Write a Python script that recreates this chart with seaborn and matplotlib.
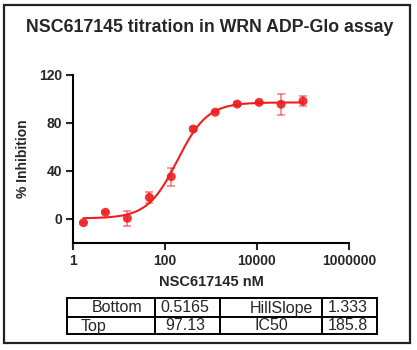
import numpy as np
import pandas as pd
import matplotlib
matplotlib.use("Agg")
import matplotlib.pyplot as plt
from matplotlib.patches import Rectangle
from matplotlib.lines import Line2D
import seaborn as sns

# ---- data ----
conc_nM = [1.69, 5.08, 15.2, 45.7, 137.0, 412.0, 1235.0, 3704.0, 11111.0, 33333.0, 100000.0]
inhibition = [-3.1, 5.6, 0.6, 18.0, 35.3, 75.0, 89.0, 95.8, 97.2, 95.6, 98.3]
inhibition_err = [1.0, 1.0, 6.4, 4.3, 7.6, 1.5, 1.0, 1.5, 1.0, 8.9, 4.4]

fit_names = ["Bottom", "Top", "HillSlope", "IC50"]
fit_values = [0.5165, 97.13, 1.333, 185.8]
fit_labels = ["0.5165", "97.13", "1.333", "185.8"]

x_ticks = [1, 100, 10000, 1000000]
x_tick_labels = ["1", "100", "10000", "1000000"]
y_ticks = [0, 40, 80, 120]

title = "NSC617145 titration in WRN ADP-Glo assay"
xlabel = "NSC617145 nM"
ylabel = "% Inhibition"

# ---- style ----
sns.set_style("white")
plt.rcParams['font.family'] = ['Liberation Sans', 'DejaVu Sans']

W, H = 417, 350
fig = plt.figure(figsize=(W / 100, H / 100), dpi=100)

def fx(px):
    return px / W

def fy(py):
    return 1 - py / H

ax = fig.add_axes([fx(73), fy(243), fx(349) - fx(73), fy(75) - fy(243)])

red = "#F01E1E"

df = pd.DataFrame({"conc": conc_nM, "inh": inhibition, "err": inhibition_err})

# fitted 4PL curve from the displayed parameters
bottom, top, hill, ic50 = fit_values
xc = np.logspace(np.log10(conc_nM[0]), np.log10(conc_nM[-1]), 300)
yc = bottom + (top - bottom) / (1 + (ic50 / xc) ** hill)
curve = pd.DataFrame({"conc": xc, "inh": yc})
sns.lineplot(data=curve, x="conc", y="inh", ax=ax, color=red, lw=1.5)

ax.errorbar(df["conc"], df["inh"], yerr=df["err"], fmt="none",
            ecolor=red, alpha=0.55, elinewidth=1.2, capsize=3, capthick=1.2)
sns.scatterplot(data=df, x="conc", y="inh", ax=ax, color=red, s=42,
                edgecolor="none", alpha=0.9, zorder=5)

ax.set_xscale("log")
ax.set_xlim(1, 1e6)
ax.set_ylim(-20, 120)
ax.set_xticks(x_ticks)
ax.set_xticklabels(x_tick_labels)
ax.xaxis.set_minor_locator(matplotlib.ticker.NullLocator())
ax.set_yticks(y_ticks)
for s in ["top", "right"]:
    ax.spines[s].set_visible(False)
for s in ["left", "bottom"]:
    ax.spines[s].set_linewidth(1.5)
    ax.spines[s].set_color("black")
ax.tick_params(axis="both", direction="out", length=5, width=1.5,
               labelsize=10, pad=3, left=True, bottom=True)
for lab in ax.get_xticklabels() + ax.get_yticklabels():
    lab.set_fontweight("bold")
ax.set_xlabel(xlabel, fontsize=10.5, fontweight="bold", labelpad=5)
ax.set_ylabel(ylabel, fontsize=10, fontweight="bold", labelpad=6)

fig.text(fx(210), fy(28), title, ha="center", va="center", fontsize=12.8, fontweight="bold")

# outer frame
fig.patches.append(Rectangle((fx(4), fy(343)), fx(410) - fx(4), fy(5) - fy(343),
                             transform=fig.transFigure, fill=False, lw=1.6,
                             edgecolor="#222222"))

# parameter table
tl, tr = 67, 377
tt, tm, tb = 298, 317, 334
cols = [67, 155, 220, 322, 377]
fig.patches.append(Rectangle((fx(tl), fy(tb)), fx(tr) - fx(tl), fy(tt) - fy(tb),
                             transform=fig.transFigure, fill=False, lw=1.4,
                             edgecolor="black"))
fig.lines.append(Line2D([fx(tl), fx(tr)], [fy(tm), fy(tm)], transform=fig.transFigure,
                        color="black", lw=1.4))
for c in cols[1:-1]:
    fig.lines.append(Line2D([fx(c), fx(c)], [fy(tt), fy(tb)], transform=fig.transFigure,
                            color="black", lw=1.4))
r1 = (tt + tm) / 2 + 0.5
r2 = (tm + tb) / 2 + 0.5
fs = 11.5
fig.text(fx(92), fy(r1), fit_names[0], ha="left", va="center", fontsize=fs)
fig.text(fx(81), fy(r2), fit_names[1], ha="left", va="center", fontsize=fs)
fig.text(fx(160), fy(r1), fit_labels[0], ha="left", va="center", fontsize=fs)
fig.text(fx(165), fy(r2), fit_labels[1], ha="left", va="center", fontsize=fs)
fig.text(fx(250), fy(r1), fit_names[2], ha="left", va="center", fontsize=fs)
fig.text(fx(255), fy(r2), fit_names[3], ha="left", va="center", fontsize=fs)
fig.text(fx(368), fy(r1), fit_labels[2], ha="right", va="center", fontsize=fs)
fig.text(fx(368), fy(r2), fit_labels[3], ha="right", va="center", fontsize=fs)

fig.savefig("out.png", dpi=100)
